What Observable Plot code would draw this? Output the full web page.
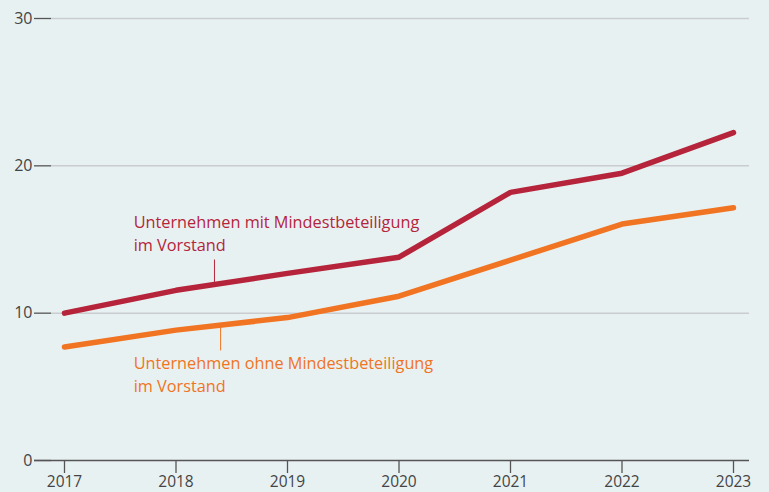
<!DOCTYPE html>
<html><head><meta charset="utf-8">
<script src="https://cdn.jsdelivr.net/npm/d3@7"></script>
<script src="https://cdn.jsdelivr.net/npm/@observablehq/plot@0.6"></script>
<style>
html,body{margin:0;padding:0;background:#e8f1f2;}
#chart svg{display:block;}
</style></head>
<body><div id="chart"></div>
<script>
const years = [2017, 2018, 2019, 2020, 2021, 2022, 2023];
const mitValues = [10.0, 11.55, 12.7, 13.8, 18.2, 19.5, 22.25];
const ohneValues = [7.7, 8.85, 9.7, 11.15, 13.6, 16.05, 17.15];
const seriesNames = ["Unternehmen mit Mindestbeteiligung\nim Vorstand", "Unternehmen ohne Mindestbeteiligung\nim Vorstand"];
const yTicks = [0, 10, 20, 30];
const colors = ["#b5243a", "#f07422"];

const data = [];
years.forEach((y, i) => data.push({year: y, value: mitValues[i], s: 0}));
years.forEach((y, i) => data.push({year: y, value: ohneValues[i], s: 1}));

// label anchor positions (data space)
const labels = [
  {year: 2017.62, value: 16.9, text: seriesNames[0], s: 0, ly1: 13.64, ly2: 12.0, lx: 2018.345},
  {year: 2017.62, value: 7.33, text: seriesNames[1], s: 1, ly1: 7.47, ly2: 9.15, lx: 2018.40}
];

const chart = Plot.plot({
  width: 769, height: 492,
  marginLeft: 64, marginRight: 36, marginTop: 18, marginBottom: 32,
  style: {background: "#e8f1f2", fontFamily: "'Open Sans', sans-serif", fontSize: "14px", color: "#444"},
  x: {domain: [2017, 2023], ticks: years, tickFormat: d => String(d)},
  y: {domain: [0, 30], ticks: yTicks},
  marks: [
    Plot.ruleY(yTicks.filter(d => d > 0), {stroke: "#c9cdcf", strokeWidth: 1.5, insetLeft: -13, insetRight: -16}),
    Plot.axisY({ticks: yTicks, tickSize: 17, dx: -13, tickPadding: 2, stroke: "#555", strokeWidth: 1.3, label: null, fontSize: 16, color: "#444"}),
    Plot.axisX({ticks: years, tickSize: 13, tickPadding: 2, stroke: "#555", strokeWidth: 1.3, label: null, tickFormat: d => String(d), fontSize: 15.5}),
    Plot.ruleY([0], {stroke: "#555", strokeWidth: 1.3, insetLeft: -30, insetRight: -16}),
    Plot.link(labels, {x1: "lx", x2: "lx", y1: "ly1", y2: "ly2", stroke: d => colors[d.s], strokeWidth: 1}),
    Plot.line(data, {x: "year", y: "value", z: "s", stroke: d => colors[d.s], strokeWidth: 5.5, strokeLinecap: "round", strokeLinejoin: "round"}),
    Plot.text(labels, {x: "year", y: "value", text: "text", fill: d => colors[d.s], textAnchor: "start", lineAnchor: "top", fontSize: 16.3, lineHeight: 1.41})
  ]
});
document.getElementById("chart").appendChild(chart);
</script></body></html>
